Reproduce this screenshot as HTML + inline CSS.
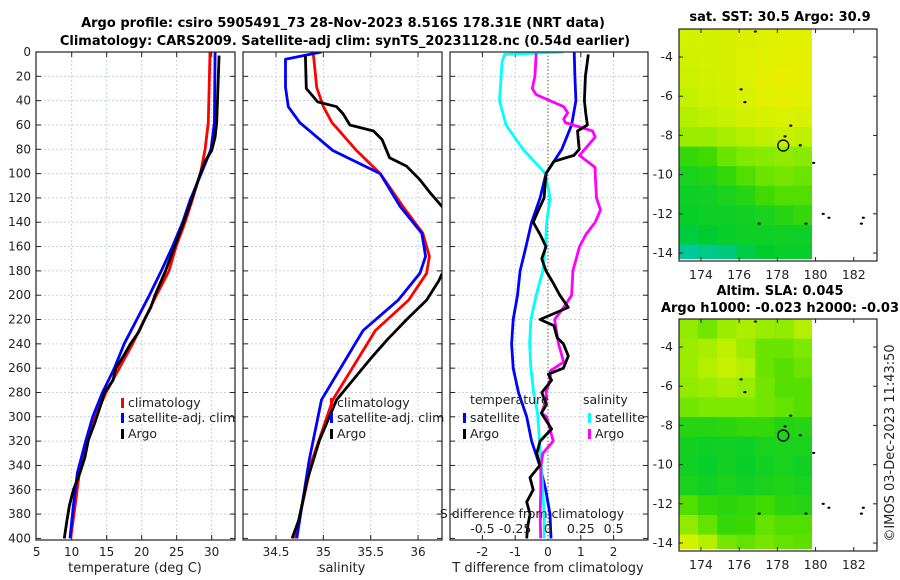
<!DOCTYPE html>
<html><head><meta charset="utf-8"><style>
body{margin:0;background:#fff;width:900px;height:580px;overflow:hidden}
svg{display:block;font-family:"DejaVu Sans","Liberation Sans",sans-serif}
</style></head><body>
<svg id="c" width="900" height="580" viewBox="0 0 900 580" xmlns="http://www.w3.org/2000/svg">
<defs>
<clipPath id="cp1"><rect x="36" y="52" width="199" height="488"/></clipPath>
<clipPath id="cp2"><rect x="243" y="52" width="199" height="488"/></clipPath>
<clipPath id="cp3"><rect x="450" y="52" width="198" height="488"/></clipPath>
<clipPath id="cm1"><rect x="679" y="29" width="133" height="230"/></clipPath>
<clipPath id="cm2"><rect x="679" y="319" width="133" height="230"/></clipPath>
</defs>
<text x="343" y="27" text-anchor="middle" font-size="13" font-weight="bold">Argo profile: csiro 5905491_73 28-Nov-2023 8.516S 178.31E (NRT data)</text>
<text x="345" y="45" text-anchor="middle" font-size="13" font-weight="bold">Climatology: CARS2009. Satellite-adj clim: synTS_20231128.nc (0.54d earlier)</text>
<g id="g"></g>
</svg>
<script>
// ---- profile data (depth in m) ----
const tDepthClim=[0,58,80,99,122,140,160,180,200,220,240,260,280,300,320,346,373,400];
const tClim=[29.76,29.52,29.05,28.43,27.2,26.2,24.9,23.9,22.1,20.4,18.7,16.8,14.9,13.4,12.2,11.1,10.48,9.86];
const tSat=[30.48,30.38,29.9,28.57,26.9,25.85,24.4,22.8,21.1,19.3,17.5,16.1,14.4,13.0,12.0,10.81,10.24,9.76];
const tArgoDepth=[3,58,70,81,90,99,122,140,160,180,200,210,220,230,240,250,260,270,280,291,305,319,333,346,360,373,386,400];
const tArgo=[31.05,30.71,30.48,30.0,29.05,28.43,27.1,26.0,24.7,23.4,21.9,21.3,20.4,19.6,18.4,17.4,16.3,15.9,14.7,14.1,13.3,12.38,11.9,11.19,10.24,9.67,9.3,8.95];

const sDepthClim=[0,6,29,45,58,81,100,127,149,168,182,204,229,286,336,400];
const sClim=[34.89,34.9,34.93,35.0,35.09,35.35,35.6,35.84,36.05,36.12,36.09,35.9,35.55,35.1,34.88,34.7];
const sSat=[34.98,34.6,34.6,34.63,34.75,35.1,35.6,35.81,36.04,36.08,36.02,35.79,35.42,34.98,34.85,34.72];
const sArgoDepth=[3,30,41,45,51,60,65,72,87,94,105,116,125,140,160,183,188,204,220,237,253,286,319,352,385,400];
const sArgo=[34.81,34.82,34.94,35.14,35.21,35.28,35.53,35.62,35.7,35.88,36.02,36.13,36.23,36.4,36.45,36.25,36.22,36.09,35.88,35.67,35.49,35.14,34.96,34.83,34.74,34.67];

const dDepthSatT=[0,20,40,60,80,100,120,140,160,180,200,220,240,260,280,300,320,341,360,380,400];
const dSatT=[0.80,0.82,0.85,0.72,0.42,-0.06,-0.24,-0.5,-0.67,-0.85,-0.93,-1.06,-1.11,-1.06,-0.9,-0.65,-0.5,-0.24,-0.07,0.06,0.09];
const dDepthSatS=[0,2,8,40,60,80,100,120,140,160,180,200,220,240,260,280,297,341,379,400];
const dSatS=[0.12,-0.33,-0.35,-0.37,-0.32,-0.19,-0.02,0.015,-0.01,-0.02,-0.04,-0.09,-0.13,-0.14,-0.13,-0.11,-0.08,-0.05,-0.03,-0.03];
const dDepthArgoS=[1,20,30,35,45,50,55,58,65,70,80,85,95,100,120,130,140,150,160,180,200,210,220,240,255,262,270,280,285,297,300,320,330,341,360,380,400];
const dArgoS=[-0.09,-0.1,-0.12,-0.09,0.12,0.15,0.12,0.13,0.34,0.36,0.28,0.24,0.36,0.36,0.37,0.4,0.36,0.29,0.24,0.19,0.18,0.12,0.05,0.08,0.12,0.02,0.015,-0.015,-0.01,-0.05,-0.01,0.04,-0.04,-0.055,-0.055,-0.06,-0.056];
const dDepthArgoT=[2,20,40,50,60,65,80,85,90,100,110,120,130,140,150,160,170,180,190,200,210,220,225,235,240,250,260,265,270,280,290,297,310,320,330,340,350,360,370,380,390,400];
const dArgoT=[1.23,1.14,1.11,1.15,1.2,0.9,0.95,0.79,0.18,-0.06,-0.09,-0.12,-0.29,-0.45,-0.24,-0.06,-0.19,-0.06,0.16,0.36,0.62,-0.24,0.18,0.28,0.47,0.62,0.47,0.01,0.11,-0.19,-0.05,-0.2,0.11,-0.24,-0.34,-0.25,-0.55,-0.45,-0.65,-0.55,-0.62,-0.65];

const depthTicks=[0,20,40,60,80,100,120,140,160,180,200,220,240,260,280,300,320,340,360,380,400];
const tTicks=[5,10,15,20,25,30];
const sTicks=[34.5,35,35.5,36];
const dTicks=[-2,-1,0,1,2];
const dsTickLabels=["-0.5","-0.25","0","0.25","0.5"];
const dsTickVals=[-0.5,-0.25,0,0.25,0.5];

// ---- maps (cell values 0..1, 1-degree cells from lat -2.6 / lon 172.85) ----
const sstGrid=[
[0.88,0.88,0.9,0.92,0.94,0.96,0.96,0.96],
[0.87,0.88,0.9,0.93,0.96,0.98,0.98,0.96],
[0.85,0.87,0.9,0.93,0.98,1,0.98,0.96],
[0.83,0.85,0.87,0.91,0.96,0.98,0.96,0.93],
[0.8,0.82,0.84,0.87,0.91,0.93,0.91,0.89],
[0.74,0.74,0.77,0.8,0.82,0.84,0.82,0.8],
[0.45,0.5,0.62,0.68,0.7,0.72,0.7,0.7],
[0.35,0.38,0.45,0.55,0.62,0.65,0.62,0.6],
[0.3,0.32,0.35,0.4,0.5,0.55,0.55,0.5],
[0.28,0.3,0.3,0.32,0.35,0.4,0.45,0.4],
[0.22,0.25,0.28,0.3,0.3,0.32,0.3,0.3],
[0.02,0.05,0.08,0.2,0.25,0.28,0.28,0.28]];
const slaGrid=[
[0.72,0.64,0.74,0.78,0.74,0.72,0.8,0.88],
[0.74,0.77,0.82,0.74,0.62,0.62,0.67,0.78],
[0.74,0.8,0.84,0.8,0.62,0.56,0.62,0.67],
[0.72,0.74,0.77,0.74,0.64,0.56,0.56,0.62],
[0.64,0.67,0.67,0.67,0.64,0.6,0.56,0.56],
[0.4,0.4,0.42,0.45,0.45,0.38,0.4,0.42],
[0.33,0.3,0.32,0.3,0.35,0.35,0.35,0.3],
[0.32,0.28,0.33,0.28,0.33,0.35,0.32,0.3],
[0.35,0.32,0.35,0.32,0.35,0.38,0.35,0.32],
[0.55,0.45,0.42,0.45,0.5,0.42,0.4,0.42],
[0.72,0.6,0.45,0.48,0.6,0.55,0.55,0.52],
[0.88,0.8,0.65,0.6,0.65,0.6,0.58,0.55]];
const latTicks=[-4,-6,-8,-10,-12,-14];
const lonTicks=[174,176,178,180,182];
const argoLon=178.31, argoLat=-8.516;
const islands=[[176.1,-5.65],[176.3,-6.3],[178.7,-7.5],[178.4,-8.05],[179.2,-8.5],[179.9,-9.4],[177.05,-12.5],[179.5,-12.5],[180.4,-12.0],[180.7,-12.2],[182.4,-12.5],[182.5,-12.2],[176.85,-2.7]];

const NS="http://www.w3.org/2000/svg";
const G=document.getElementById('g');
function mk(tag,attrs,parent){const e=document.createElementNS(NS,tag);for(const k in attrs)e.setAttribute(k,attrs[k]);(parent||G).appendChild(e);return e;}
const Y=d=>52+d*1.216;
const X1=t=>36.7+(t-5)*7;
const X2=s=>276+(s-34.5)*94.7;
const X3=v=>548+v*32.8;
const X3s=v=>548+v*131.2;

function panel(x0,w,name){
  const gg=mk('g',{});
  
  
  return gg;
}
function hgrid(gg,x0,w){
  depthTicks.forEach(d=>{
    if(d>0&&d<400){const l=mk('line',{x1:x0,x2:x0+w,y1:Y(d),y2:Y(d),stroke:'#c9cfe6','stroke-width':1,'stroke-dasharray':'2,2'},gg);
    
    }
    mk('line',{x1:x0,x2:x0+5,y1:Y(d),y2:Y(d),stroke:'#222'},gg);
    mk('line',{x1:x0+w-5,x2:x0+w,y1:Y(d),y2:Y(d),stroke:'#222'},gg);
  });
}
function vgrid(gg,xs){
  xs.forEach(x=>{
    const l=mk('line',{x1:x,x2:x,y1:52,y2:540,stroke:'#c9cfe6','stroke-dasharray':'2,2'},gg);
    
    
    mk('line',{x1:x,x2:x,y1:540,y2:535,stroke:'#222'},gg);
    mk('line',{x1:x,x2:x,y1:52,y2:57,stroke:'#222'},gg);
  });
}
function line(gg,xs,ds,fx,col,clip,name){
  const pts=xs.map((v,i)=>fx(v).toFixed(1)+','+Y(ds[i]).toFixed(1)).join(' ');
  const p=mk('polyline',{points:pts,fill:'none',stroke:col,'stroke-width':2.8,'stroke-linejoin':'round','clip-path':'url(#'+clip+')'},gg);
  
  
}
function txt(gg,x,y,s,attrs){const t=mk('text',Object.assign({x:x,y:y,'font-size':12,fill:'#222'},attrs||{}),gg);t.textContent=s;return t;}
function legend(gg,x,y,col,label,name){
  mk('rect',{x:x,y:y-9,width:3,height:10,fill:col},gg);
  const t=txt(gg,x+7,y,label,{'font-size':12.5});
  
  
}

// Panel 1
let p=panel(36,199,'temperature-panel');
vgrid(p,tTicks.slice(1).map(X1));
hgrid(p,36,199);
depthTicks.forEach(d=>{const t=txt(p,31,Y(d)+4,String(d),{'text-anchor':'end'});

});
tTicks.forEach(v=>{const t=txt(p,X1(v),556,String(v),{'text-anchor':'middle'});

});
line(p,tClim,tDepthClim,X1,'#f00','cp1','climatology-temperature-line');
line(p,tSat,tDepthClim,X1,'#00f','cp1','satellite-temperature-line');
line(p,tArgo,tArgoDepth,X1,'#000','cp1','argo-temperature-line');
legend(p,121,407,'#f00','climatology','legend-climatology');
legend(p,121,422,'#00f','satellite-adj. clim','legend-satellite');
legend(p,121,438,'#000','Argo','legend-argo');
let t1=txt(p,135,572,'temperature (deg C)',{'text-anchor':'middle','font-size':13});


mk('rect',{x:36,y:52,width:199,height:488,fill:'none',stroke:'#222','stroke-width':1.2},p);

// Panel 2
p=panel(243,199,'salinity-panel');
vgrid(p,sTicks.map(X2));
hgrid(p,243,199);
sTicks.forEach(v=>{const t=txt(p,X2(v),556,String(v),{'text-anchor':'middle'});

});
line(p,sClim,sDepthClim,X2,'#f00','cp2','climatology-salinity-line');
line(p,sSat,sDepthClim,X2,'#00f','cp2','satellite-salinity-line');
line(p,sArgo,sArgoDepth,X2,'#000','cp2','argo-salinity-line');
legend(p,330,407,'#f00','climatology','legend-climatology-2');
legend(p,330,422,'#00f','satellite-adj. clim','legend-satellite-2');
legend(p,330,438,'#000','Argo','legend-argo-2');
t1=txt(p,342,572,'salinity',{'text-anchor':'middle','font-size':13});


mk('rect',{x:243,y:52,width:199,height:488,fill:'none',stroke:'#222','stroke-width':1.2},p);

// Panel 3
p=panel(450,198,'difference-panel');
vgrid(p,[-2,-1,1,2].map(X3));
mk('line',{x1:548,x2:548,y1:52,y2:540,stroke:'#556633','stroke-dasharray':'1.5,2'},p);
hgrid(p,450,198);
dTicks.forEach(v=>{const t=txt(p,X3(v),556,String(v),{'text-anchor':'middle'});

});
line(p,dSatT,dDepthSatT,X3,'#00f','cp3','satellite-t-diff-line');
line(p,dSatS,dDepthSatS,X3s,'#0ff','cp3','satellite-s-diff-line');
line(p,dArgoS,dDepthArgoS,X3s,'#f0f','cp3','argo-s-diff-line');
line(p,dArgoT,dDepthArgoT,X3,'#000','cp3','argo-t-diff-line');
txt(p,470,404,'temperature',{'font-size':12.5});
txt(p,583,404,'salinity',{'font-size':12.5});
legend(p,463,422,'#00f','satellite','legend-t-satellite');
legend(p,463,438,'#000','Argo','legend-t-argo');
legend(p,588,422,'#0ff','satellite','legend-s-satellite');
legend(p,588,438,'#f0f','Argo','legend-s-argo');
t1=txt(p,532,518,'S difference from climatology',{'text-anchor':'middle','font-size':12.5});


dsTickVals.forEach((v,i)=>{const t=txt(p,X3s(v),533,dsTickLabels[i],{'text-anchor':'middle','font-size':12.5});

});
t1=txt(p,548,572,'T difference from climatology',{'text-anchor':'middle','font-size':13});


mk('rect',{x:450,y:52,width:198,height:488,fill:'none',stroke:'#222','stroke-width':1.2},p);

// colormap
const cmap=[[0,[0,200,160]],[0.25,[0,204,48]],[0.5,[64,218,0]],[0.7,[136,234,0]],[0.85,[204,242,0]],[1,[232,240,0]]];
function col(v){for(let i=1;i<cmap.length;i++){if(v<=cmap[i][0]){const a=cmap[i-1],b=cmap[i];const f=(v-a[0])/(b[0]-a[0]);return 'rgb('+a[1].map((c,k)=>Math.round(c+(b[1][k]-c)*f)).join(',')+')';}}return 'rgb(232,240,0)';}

function map(top,grid,clip,name,title1,title2){
  const gg=panel(679,198,name);
  const MX=lon=>679+(lon-172.85)*19.1;
  const MY=lat=>top+(-2.57-lat)*19.6;
  grid.forEach((row,r)=>row.forEach((v,c)=>{
    const cell=mk('rect',{x:MX(172.85+c),y:MY(-2.57-r),width:19.6,height:20.1,fill:col(v),'clip-path':'url(#'+clip+')'},gg);
    
    
  }));
  islands.forEach(p=>{mk('ellipse',{cx:MX(p[0]),cy:MY(p[1]),rx:1.6,ry:1.1,fill:'#000'},gg);});
  const c=mk('circle',{cx:MX(argoLon),cy:MY(argoLat),r:5.5,fill:'none',stroke:'#000','stroke-width':1.3},gg);
  
  
  mk('rect',{x:679,y:top,width:198,height:232,fill:'none',stroke:'#222','stroke-width':1.2},gg);
  latTicks.forEach(l=>{mk('line',{x1:679,x2:683,y1:MY(l),y2:MY(l),stroke:'#222'},gg);mk('line',{x1:873,x2:877,y1:MY(l),y2:MY(l),stroke:'#222'},gg);
    const t=txt(gg,673,MY(l)+4,String(l),{'text-anchor':'end','font-size':12.5});
    
    });
  lonTicks.forEach(l=>{mk('line',{x1:MX(l),x2:MX(l),y1:top+232,y2:top+228,stroke:'#222'},gg);mk('line',{x1:MX(l),x2:MX(l),y1:top,y2:top+4,stroke:'#222'},gg);
    const t=txt(gg,MX(l),top+250,String(l),{'text-anchor':'middle','font-size':12.5});
    
    });
  if(title1){const t=txt(gg,780,top-(title2?24:8),title1,{'text-anchor':'middle','font-size':13,'font-weight':'bold',fill:'#000'});
    
    }
  if(title2){const t=txt(gg,780,top-7,title2,{'text-anchor':'middle','font-size':13,'font-weight':'bold',fill:'#000'});
    
    }
}
map(29,sstGrid,'cm1','sst-map','sat. SST: 30.5 Argo: 30.9',null);
map(319,slaGrid,'cm2','sla-map','Altim. SLA: 0.045','Argo h1000: -0.023 h2000: -0.03');
const ts=mk('text',{x:0,y:0,'font-size':13,fill:'#222','text-anchor':'middle',transform:'translate(894,443) rotate(-90)'});
ts.textContent='©IMOS 03-Dec-2023 11:43:50';


</script>
</body></html>
